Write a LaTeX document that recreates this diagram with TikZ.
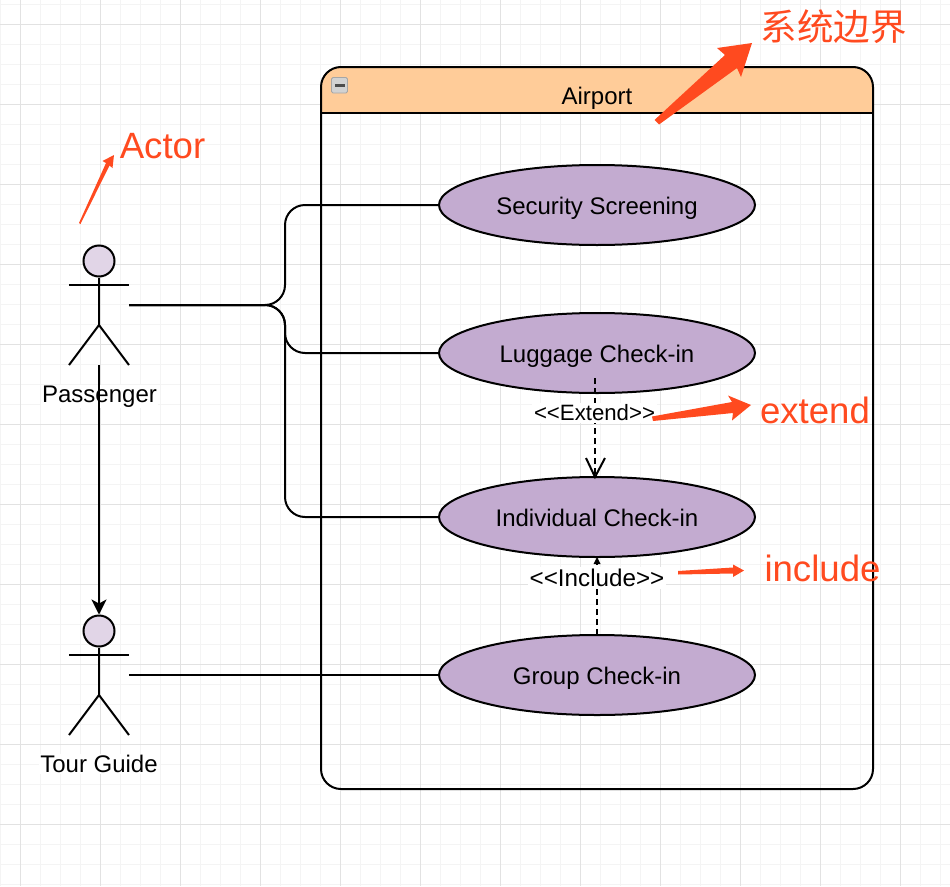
\documentclass[tikz,border=0pt]{standalone}
\usepackage{fontspec}
\setmainfont{Liberation Sans}
\newfontfamily\cjkfont{Noto Sans CJK SC}
\definecolor{anno}{HTML}{FF4A1F}
\definecolor{usecase}{HTML}{C3ABD0}
\definecolor{headfill}{HTML}{E1D5E7}
\definecolor{hdr}{HTML}{FFCC99}
\definecolor{gridmajor}{HTML}{E2E2E2}
\definecolor{gridminor}{HTML}{F4F4F4}
\tikzset{
  x=1pt,y=-1pt,
  usecasebox/.style={ellipse,draw=black,line width=2pt,fill=usecase,minimum width=316pt,minimum height=80pt,inner sep=0pt,text height=24pt,text depth=5pt,font=\fontsize{24}{28}\selectfont},
  actorhead/.style={circle,draw=black,line width=2pt,fill=headfill,minimum size=31pt,inner sep=0pt},
  actorline/.style={draw=black,line width=2pt},
  actorlabel/.style={fill=white,inner sep=1pt,font=\fontsize{24}{28}\selectfont},
  link/.style={draw=black,line width=2pt,rounded corners=20pt},
  stereo/.style={fill=white,inner sep=2pt,font=\fontsize{22.2}{26}\selectfont},
  annotext/.style={text=anno,inner sep=0pt,font=\fontsize{36.6}{42}\selectfont},
  annoarrow/.style={fill=anno,draw=none},
}
\usetikzlibrary{shapes.geometric,arrows.meta}
\begin{document}
\begin{tikzpicture}
\useasboundingbox (0,0) rectangle (950,886);
\fill[white] (0,0) rectangle (950,886);
% grid
\foreach \gx in {0.5,20.5,...,950}{\draw[gridminor,line width=0.8pt] (\gx,0) -- (\gx,886);}
\foreach \gy in {4.5,24.5,...,886}{\draw[gridminor,line width=0.8pt] (0,\gy) -- (950,\gy);}
\foreach \gx in {20.5,100.5,...,950}{\draw[gridmajor,line width=0.9pt] (\gx,0) -- (\gx,886);}
\foreach \gy in {24.5,104.5,...,886}{\draw[gridmajor,line width=0.9pt] (0,\gy) -- (950,\gy);}
% system boundary
\begin{scope}
\clip (315,60) rectangle (880,113);
\fill[hdr,rounded corners=20pt] (321,67) rectangle (873,789);
\end{scope}
\draw[line width=2pt,rounded corners=20pt] (321,67) rectangle (873,789);
\draw[line width=2pt] (321,113) -- (873,113);
\node[inner sep=0pt,text height=24pt,text depth=5pt,font=\fontsize{24}{28}\selectfont] (airport) at (597,95) {Airport};
\filldraw[rounded corners=1.5pt,draw=gray!70,fill=gray!35,line width=0.8pt] (331.5,77.5) rectangle (347.5,93);
\fill[black!70] (334.5,84) rectangle (344.5,86.5);
% use cases
\node[usecasebox] (sec) at (597,205) {Security Screening};
\node[usecasebox] (lug) at (597,353) {Luggage Check-in};
\node[usecasebox] (ind) at (597,517) {Individual Check-in};
\node[usecasebox] (grp) at (597,675) {Group Check-in};
% actors
\node[actorhead] (phead) at (99,261) {};
\coordinate (phip) at (99,325);
\coordinate (pport) at (129,305);
\coordinate (pfoot) at (99,365);
\draw[actorline] (phead.south) -- (phip);
\draw[actorline] (69,285) -- (129,285);
\draw[actorline] (69,365) -- (phip) -- (129,365);
\node[actorlabel] (plabel) at (99.5,396.5) {Passenger};
\node[actorhead] (thead) at (99,631) {};
\coordinate (thip) at (99,695);
\coordinate (tport) at (129,675);
\draw[actorline] (thead.south) -- (thip);
\draw[actorline] (69,655) -- (129,655);
\draw[actorline] (69,735) -- (thip) -- (129,735);
\node[actorlabel] (tlabel) at (99,764) {Tour Guide};
% connectors
\coordinate (bus) at (285,305);
\draw[link] (pport) -- (bus) -- (bus |- sec.west) -- (sec.west);
\draw[link] (pport) -- (bus) -- (bus |- lug.west) -- (lug.west);
\draw[link] (pport) -- (bus) -- (bus |- ind.west) -- (ind.west);
\draw[link,rounded corners=0pt] (tport) -- (grp.west);
\draw[line width=2pt,-{Stealth[length=15pt,width=15pt,inset=4pt]}] (pfoot) -- (thead.north);
% stereotypes
\coordinate (extstart) at (595,378);
\coordinate (extend) at (595,477);
\draw[line width=2pt,dash pattern=on 6pt off 4pt] (extstart) -- (extend);
\draw[line width=2pt] (586,458) -- (extend) -- (605,458);
\node[stereo] (extlabel) at (594.5,413) {{<}{<}Extend{>}{>}};
\coordinate (incstart) at (597,635);
\draw[line width=2pt,dash pattern=on 6pt off 4pt] (incstart) -- (597,562);
\fill (597,557) -- (600.5,564) -- (593.5,564) -- cycle;
\node[stereo,font=\fontsize{24.2}{28}\selectfont] (inclabel) at (597,578) {{<}{<}Include{>}{>}};
% annotations
\node[annotext,font=\fontsize{36.5}{42}\selectfont\cjkfont] (boundary) at (833.5,26.5) {系统边界};
\fill[annoarrow] (654.5,120) -- (725,55) -- (717,48) -- (752,43) -- (741,77) -- (737,68) -- (659,124.5) -- cycle;
\node[annotext] (actortxt) at (162.5,146.5) {Actor};
\fill[annoarrow] (79,223) -- (106,163) -- (102.5,161) -- (114,155) -- (112.5,168) -- (109.5,165.5) -- (80.5,224) -- cycle;
\node[annotext] (exttxt) at (815,410) {extend};
\fill[annoarrow] (652,416.5) -- (732,402) -- (728,395.5) -- (751,405) -- (732,420.5) -- (733,413) -- (653,421) -- cycle;
\node[annotext] (inctxt) at (822.5,568) {include};
\fill[annoarrow] (678,571) -- (733,567.5) -- (733,564.5) -- (744,570.5) -- (733,577) -- (733,573.5) -- (678,574.5) -- cycle;
\end{tikzpicture}
\end{document}
